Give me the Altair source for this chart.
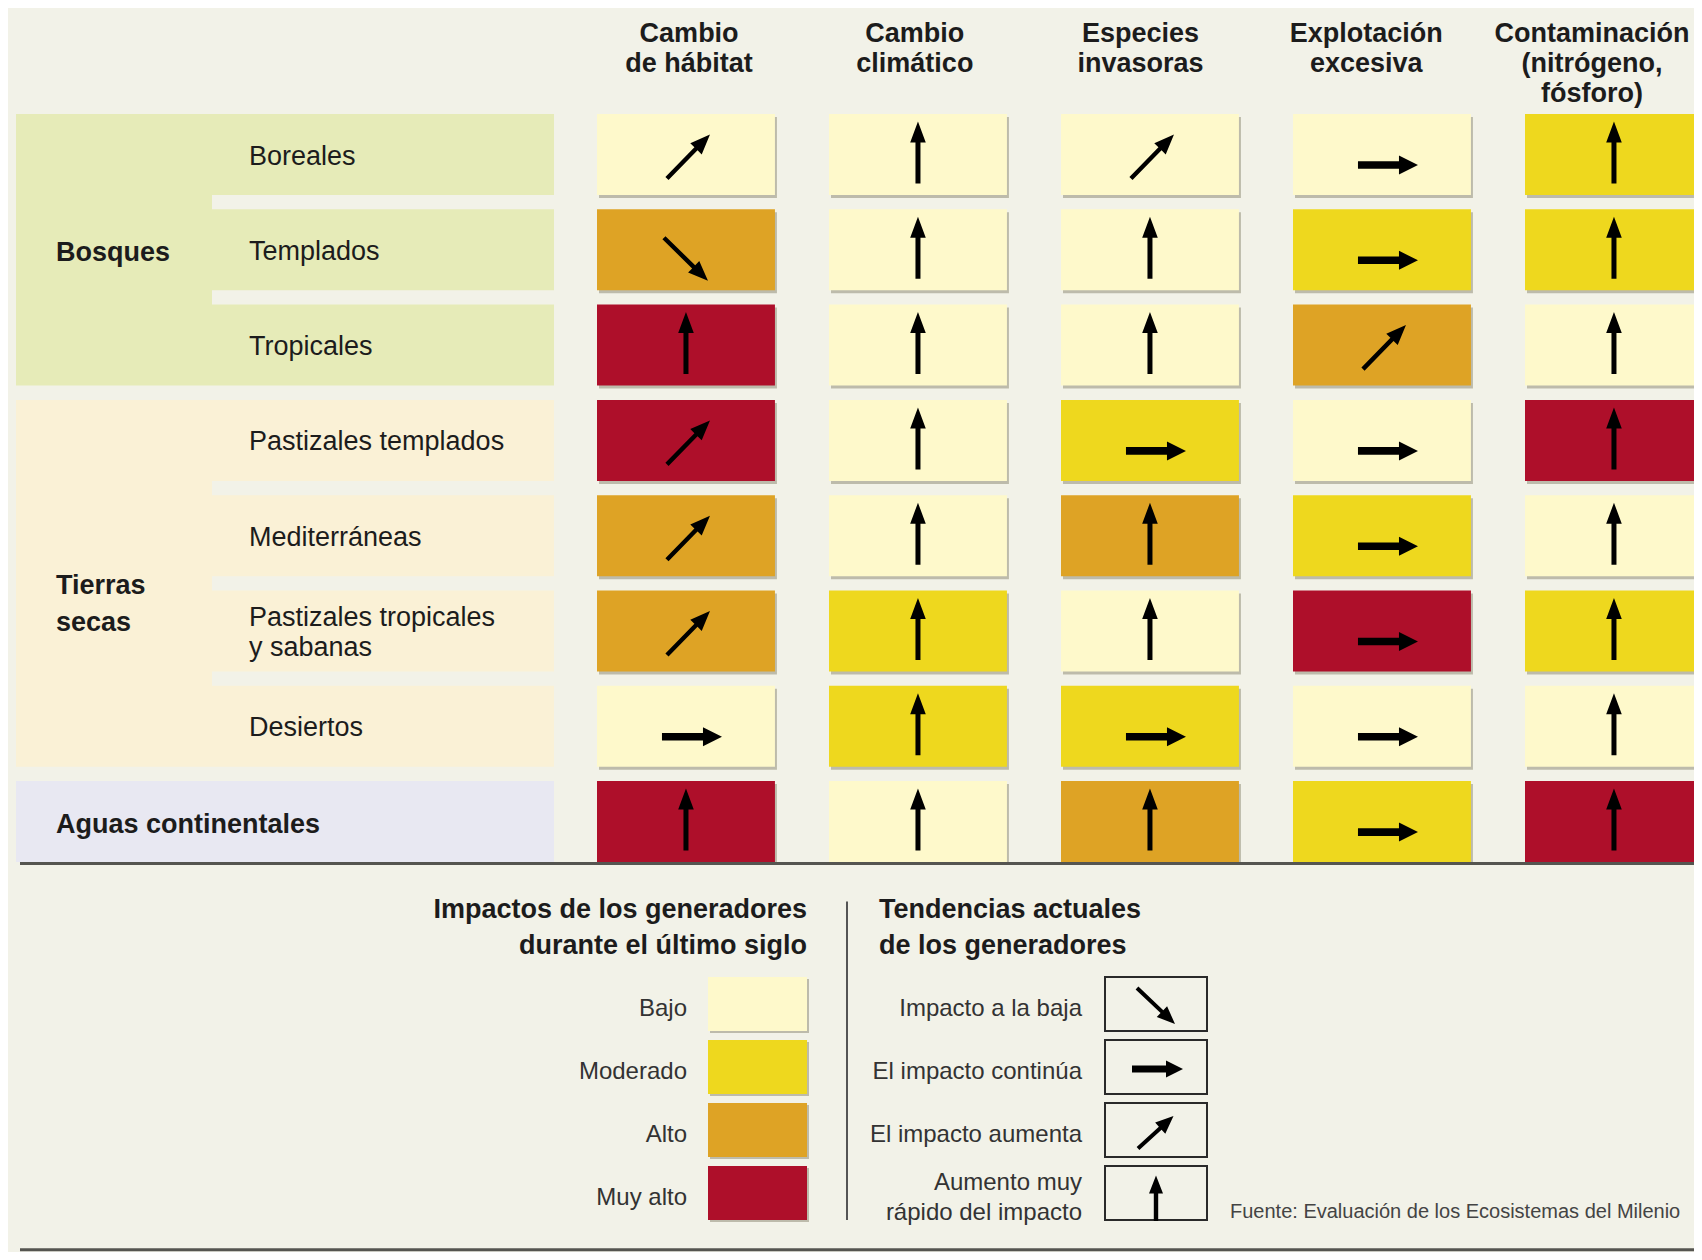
import math
import altair as alt
import pandas as pd

# ---------------- datos ----------------
impulsores = ["Cambio\nde hábitat", "Cambio\nclimático", "Especies\ninvasoras",
              "Explotación\nexcesiva", "Contaminación\n(nitrógeno,\nfósforo)"]
ecosistemas = ["Boreales", "Templados", "Tropicales", "Pastizales templados",
               "Mediterráneas", "Pastizales tropicales\ny sabanas", "Desiertos",
               "Aguas continentales"]
grupo_de_ecosistema = ["Bosques", "Bosques", "Bosques", "Tierras secas", "Tierras secas",
                       "Tierras secas", "Tierras secas", "Aguas continentales"]
grupos = ["Bosques", "Tierras secas", "Aguas continentales"]
etiquetas_grupo = ["Bosques", "Tierras\nsecas", "Aguas continentales"]

niveles = ["Bajo", "Moderado", "Alto", "Muy alto"]
tendencias = ["Impacto a la baja", "El impacto continúa", "El impacto aumenta",
              "Aumento muy rápido del impacto"]
etiquetas_tendencia = ["Impacto a la baja", "El impacto continúa", "El impacto aumenta",
                       "Aumento muy\nrápido del impacto"]

# impacto durante el último siglo (una lista por impulsor, filas en orden de ecosistemas)
impacto_habitat = ["Bajo", "Alto", "Muy alto", "Muy alto", "Alto", "Alto", "Bajo", "Muy alto"]
impacto_clima = ["Bajo", "Bajo", "Bajo", "Bajo", "Bajo", "Moderado", "Moderado", "Bajo"]
impacto_invasoras = ["Bajo", "Bajo", "Bajo", "Moderado", "Alto", "Bajo", "Moderado", "Alto"]
impacto_explotacion = ["Bajo", "Moderado", "Alto", "Bajo", "Moderado", "Muy alto", "Bajo", "Moderado"]
impacto_contaminacion = ["Moderado", "Moderado", "Bajo", "Muy alto", "Bajo", "Moderado", "Bajo", "Muy alto"]

# tendencia actual: baja, continúa, aumenta, rápido
tendencia_habitat = ["aumenta", "baja", "rápido", "aumenta", "aumenta", "aumenta", "continúa", "rápido"]
tendencia_clima = ["rápido", "rápido", "rápido", "rápido", "rápido", "rápido", "rápido", "rápido"]
tendencia_invasoras = ["aumenta", "rápido", "rápido", "continúa", "rápido", "rápido", "continúa", "rápido"]
tendencia_explotacion = ["continúa", "continúa", "aumenta", "continúa", "continúa", "continúa", "continúa", "continúa"]
tendencia_contaminacion = ["rápido", "rápido", "rápido", "rápido", "rápido", "rápido", "rápido", "rápido"]

fuente_texto = "Fuente: Evaluación de los Ecosistemas del Milenio"
titulo_impactos = "Impactos de los generadores\ndurante el último siglo"
titulo_tendencias = "Tendencias actuales\nde los generadores"

# ---------------- estilo / disposición ----------------
codigo_tendencia = dict(zip(["baja", "continúa", "aumenta", "rápido"], tendencias))
colores_impacto = ["#FEF9CB", "#EED81E", "#DEA325", "#AE0F2A"]
colores_grupo = ["#E6EBB8", "#FAF1D6", "#E8E8F2"]
FONDO = "#F2F2E8"
SOMBRA = "#BDBBAB"
TEXTO = "#1c1c1c"
F = "Liberation Sans"

ALTO = 0.85      # alto de celda en unidades de fila
ANCHO = 0.767    # ancho de celda en unidades de columna
ALTO_L = 0.857   # alto de caja de leyenda
PASO_FILA = 95.3
PASO_LEY = 63.0

xs = alt.Scale(domain=[0, 5], range=[589, 1749], nice=False, zero=False)
ys = alt.Scale(domain=[-1, 8], range=[10.7, 868.4], nice=False, zero=False)
ly = alt.Scale(domain=[0, 4], range=[969, 1221], nice=False, zero=False)
color_imp = alt.Color("impacto:N", scale=alt.Scale(domain=niveles, range=colores_impacto), legend=None)


def ruta_flecha(cola, punta, s, hl, hh):
    (x0, y0), (x1, y1) = cola, punta
    L = math.hypot(x1 - x0, y1 - y0)
    ux, uy = (x1 - x0) / L, (y1 - y0) / L
    nx, ny = -uy, ux
    bx, by = x1 - ux * hl, y1 - uy * hl
    pts = [(x0 + nx * s, y0 + ny * s), (bx + nx * s, by + ny * s), (bx + nx * hh, by + ny * hh),
           (x1, y1), (bx - nx * hh, by - ny * hh), (bx - nx * s, by - ny * s), (x0 - nx * s, y0 - ny * s)]
    return "M" + "L".join(f"{x:.2f},{y:.2f}" for x, y in pts) + "Z"


rutas_tabla = [
    ruta_flecha((-22, -12), (22, 31), 2.2, 20, 8),
    ruta_flecha((-24, 10.5), (36, 10.5), 3.8, 19, 9.5),
    ruta_flecha((-19, 24), (24, -20), 2.2, 20, 8),
    ruta_flecha((0, 29), (0, -33), 2.5, 21, 7.8),
]
rutas_leyenda = [
    ruta_flecha((-19, -16), (19, 20), 2.0, 18, 7.5),
    ruta_flecha((-24, 2), (27, 2), 3.4, 17, 8.5),
    ruta_flecha((-18, 18.5), (17.5, -14), 2.0, 18, 7.5),
    ruta_flecha((0, 28), (0, -17.5), 2.2, 18, 7),
]

# ---------------- tablas ----------------
imp_cols = [impacto_habitat, impacto_clima, impacto_invasoras, impacto_explotacion, impacto_contaminacion]
ten_cols = [tendencia_habitat, tendencia_clima, tendencia_invasoras, tendencia_explotacion, tendencia_contaminacion]
celdas_df = pd.DataFrame([
    {"col": j, "fila": i, "impacto": imp_cols[j][i], "tendencia": codigo_tendencia[ten_cols[j][i]]}
    for j in range(len(impulsores)) for i in range(len(ecosistemas))
])
enc_df = pd.DataFrame({"col": list(range(len(impulsores))), "texto": impulsores, "fila": -1})
filas_df = pd.DataFrame({"fila": list(range(len(ecosistemas))), "eco": ecosistemas, "grupo": grupo_de_ecosistema})
g = filas_df.groupby("grupo")["fila"].agg(["min", "max"])
grupos_df = pd.DataFrame({"grupo": grupos, "etiqueta": etiquetas_grupo,
                          "ini": [g.loc[k, "min"] for k in grupos], "fin": [g.loc[k, "max"] for k in grupos]})
ley_imp_df = pd.DataFrame({"k": list(range(4)), "impacto": niveles})
ley_ten_df = pd.DataFrame({"k": list(range(4)), "tendencia": tendencias, "etiqueta": etiquetas_tendencia})
textos_df = pd.DataFrame({"t": [titulo_impactos, titulo_tendencias, fuente_texto]})

fill_grupo = alt.Fill("grupo:N", scale=alt.Scale(domain=grupos, range=colores_grupo), legend=None)

celdas = alt.Chart(celdas_df).transform_calculate(
    x1=f"datum.col + {ANCHO}", y1=f"datum.fila + {ALTO}",
    xc=f"datum.col + {ANCHO / 2}", yc=f"datum.fila + {ALTO / 2}")

panel_grupo = alt.Chart(grupos_df).transform_calculate(y1=f"datum.fin + {ALTO}").mark_rect().encode(
    x=alt.value(8), x2=alt.value(204),
    y=alt.Y("ini:Q", scale=ys, axis=None), y2="y1:Q", fill=fill_grupo)
panel_fila = alt.Chart(filas_df).transform_calculate(y1=f"datum.fila + {ALTO}").mark_rect().encode(
    x=alt.value(204), x2=alt.value(546),
    y=alt.Y("fila:Q", scale=ys, axis=None), y2="y1:Q", fill=fill_grupo)

sombra = celdas.mark_rect(color=SOMBRA, xOffset=2, x2Offset=2, yOffset=3, y2Offset=3).encode(
    x=alt.X("col:Q", scale=xs, axis=None), x2="x1:Q",
    y=alt.Y("fila:Q", scale=ys, axis=None), y2="y1:Q")
rects = celdas.mark_rect().encode(
    x=alt.X("col:Q", scale=xs, axis=None), x2="x1:Q",
    y=alt.Y("fila:Q", scale=ys, axis=None), y2="y1:Q", color=color_imp)
flechas = celdas.mark_point(filled=True, color="black", opacity=1, size=4, strokeWidth=0).encode(
    x=alt.X("xc:Q", scale=xs, axis=None),
    y=alt.Y("yc:Q", scale=ys, axis=None),
    shape=alt.Shape("tendencia:N", scale=alt.Scale(domain=tendencias, range=rutas_tabla), legend=None))

encabezados = alt.Chart(enc_df).transform_calculate(xh="datum.col * 0.973 + 0.397").mark_text(
    font=F, fontSize=27, fontWeight="bold", lineBreak="\n", lineHeight=30,
    align="center", baseline="top", dy=2, color=TEXTO).encode(
    x=alt.X("xh:Q", scale=xs, axis=None), y=alt.Y("fila:Q", scale=ys, axis=None), text="texto:N")

# etiquetas de varias líneas: se centra el bloque restando media interlínea por línea extra
etiq_filas = alt.Chart(filas_df).transform_filter(
    alt.datum.grupo != "Aguas continentales").transform_calculate(
    yc=f"datum.fila + {ALTO / 2} - (length(split(datum.eco, '\\n')) - 1) * {15 / PASO_FILA}").mark_text(
    font=F, fontSize=27, lineBreak="\n", lineHeight=30, align="left", baseline="middle", dy=2,
    color=TEXTO).encode(x=alt.value(241), y=alt.Y("yc:Q", scale=ys, axis=None), text="eco:N")

etiq_grupos = alt.Chart(grupos_df).transform_calculate(ym=f"(datum.ini + datum.fin + {ALTO}) / 2").mark_text(
    font=F, fontSize=27, fontWeight="bold", lineBreak="\n", lineHeight=37, align="left",
    baseline="alphabetic", dy=11, color=TEXTO).encode(
    x=alt.value(48), y=alt.Y("ym:Q", scale=ys, axis=None), text="etiqueta:N")

linea_sup = alt.Chart(pd.DataFrame({"p": [7 + ALTO + 0.015]})).mark_rule(color="#555550", strokeWidth=3).encode(
    x=alt.value(12), x2=alt.value(1686), y=alt.Y("p:Q", scale=ys, axis=None))

# ---------------- leyenda ----------------
ley_imp = alt.Chart(ley_imp_df).transform_calculate(y1=f"datum.k + {ALTO_L}", yc=f"datum.k + {ALTO_L / 2}")
sw_sombra = ley_imp.mark_rect(color=SOMBRA, xOffset=2, x2Offset=2, yOffset=2, y2Offset=2).encode(
    x=alt.value(700), x2=alt.value(799), y=alt.Y("k:Q", scale=ly, axis=None), y2="y1:Q")
sw = ley_imp.mark_rect().encode(
    x=alt.value(700), x2=alt.value(799), y=alt.Y("k:Q", scale=ly, axis=None), y2="y1:Q", color=color_imp)
sw_txt = ley_imp.mark_text(font=F, fontSize=24, align="right", baseline="middle", dy=5,
                           color="#333333").encode(
    x=alt.value(679), y=alt.Y("yc:Q", scale=ly, axis=None), text="impacto:N")

ley_ten = alt.Chart(ley_ten_df).transform_calculate(
    y1=f"datum.k + {ALTO_L}",
    yc=f"datum.k + {ALTO_L / 2}",
    yt=f"datum.k + {ALTO_L / 2} - (length(split(datum.etiqueta, '\\n')) - 1) * {15 / PASO_LEY}")
cajas = ley_ten.mark_rect(filled=False, color="#2a2a2a", strokeWidth=2).encode(
    x=alt.value(1097), x2=alt.value(1199), y=alt.Y("k:Q", scale=ly, axis=None), y2="y1:Q")
flechas_ley = ley_ten.mark_point(filled=True, color="black", opacity=1, size=4, strokeWidth=0).encode(
    x=alt.value(1148), y=alt.Y("yc:Q", scale=ly, axis=None),
    shape=alt.Shape("tendencia:N", scale=alt.Scale(domain=tendencias, range=rutas_leyenda), legend=None))
ten_txt = ley_ten.mark_text(font=F, fontSize=24, lineBreak="\n", lineHeight=30, align="right",
                            baseline="middle", dy=5, color="#333333").encode(
    x=alt.value(1074), y=alt.Y("yt:Q", scale=ly, axis=None), text="etiqueta:N")

titulos = alt.Chart(textos_df)
POS_TITULO = "-1.07"
tit_imp = titulos.transform_filter(alt.datum.t == titulo_impactos).transform_calculate(p=POS_TITULO).mark_text(
    font=F, fontSize=27, fontWeight="bold", lineBreak="\n", lineHeight=36, align="right",
    baseline="middle", color=TEXTO).encode(
    x=alt.value(799), y=alt.Y("p:Q", scale=ly, axis=None), text="t:N")
tit_ten = titulos.transform_filter(alt.datum.t == titulo_tendencias).transform_calculate(p=POS_TITULO).mark_text(
    font=F, fontSize=27, fontWeight="bold", lineBreak="\n", lineHeight=36, align="left",
    baseline="middle", color=TEXTO).encode(
    x=alt.value(871), y=alt.Y("p:Q", scale=ly, axis=None), text="t:N")
fuente = titulos.transform_filter(alt.datum.t == fuente_texto).transform_calculate(p=f"3 + {ALTO_L}").mark_text(
    font=F, fontSize=20, align="left", baseline="alphabetic", dy=-2, color="#444444").encode(
    x=alt.value(1222), y=alt.Y("p:Q", scale=ly, axis=None), text="t:N")

divisor = alt.Chart(pd.DataFrame({"a": [-1.2], "b": [3 + ALTO_L]})).mark_rule(color="#555555", strokeWidth=2).encode(
    x=alt.value(839), y=alt.Y("a:Q", scale=ly, axis=None), y2="b:Q")
linea_inf = alt.Chart(pd.DataFrame({"p": [4.33]})).mark_rule(color="#555550", strokeWidth=3).encode(
    x=alt.value(12), x2=alt.value(1686), y=alt.Y("p:Q", scale=ly, axis=None))

chart = alt.layer(
    panel_grupo, panel_fila, sombra, rects, flechas, encabezados, etiq_filas, etiq_grupos, linea_sup,
    tit_imp, tit_ten, sw_sombra, sw, sw_txt, divisor, cajas, flechas_ley, ten_txt, fuente, linea_inf
).resolve_scale(y="independent", shape="independent").properties(
    width=1686, height=1244, autosize="none", padding=0, background=FONDO
).configure_view(stroke=None)

chart.save("out.html", embed_options={"renderer": "svg", "actions": False})
